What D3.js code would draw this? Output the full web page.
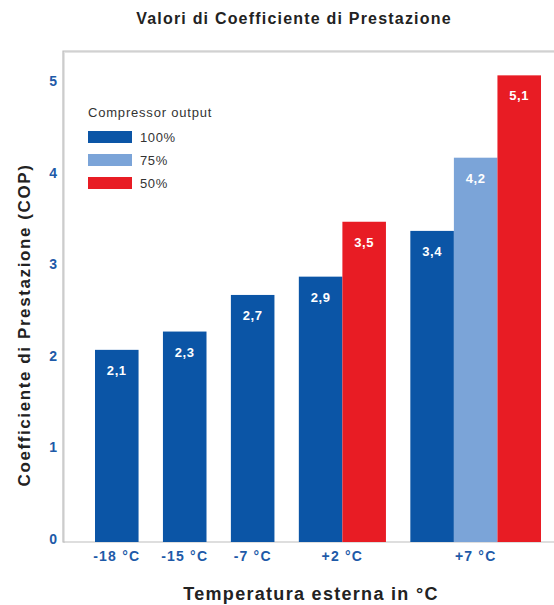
<!DOCTYPE html>
<html>
<head>
<meta charset="utf-8">
<script src="https://cdn.jsdelivr.net/npm/d3@7"></script>
<style>
  body { margin: 0; background: #fff; }
  text { font-family: "Liberation Sans", Arial, sans-serif; }
</style>
</head>
<body>
<div id="chart"></div>
<script>
// data
const categories = ['-18 °C', '-15 °C', '-7 °C', '+2 °C', '+7 °C'];
const seriesNames = ['100%', '75%', '50%'];
const seriesColors = ['#0b55a6', '#7ba4d8', '#e81c24'];
const values100 = [2.1, 2.3, 2.7, 2.9, 3.4];
const values75 = [null, null, null, null, 4.2];
const values50 = [null, null, null, 3.5, 5.1];
const yTicks = [0, 1, 2, 3, 4, 5];

const W = 554, H = 605;
const frame = {left: 63, top: 51, bottom: 542};

const svg = d3.select('#chart').append('svg')
  .attr('width', W)
  .attr('height', H);

// bars of one category sit side by side, a gap between categories
const allSeries = [values100, values75, values50];
const bars = [];
let slot = 0;
const gap = 0.56;
categories.forEach((c, ci) => {
  allSeries.forEach((vals, si) => {
    if (vals[ci] != null) {
      bars.push({cat: c, series: si, value: vals[ci], slot: slot, group: ci});
      slot++;
    }
  });
});
const totalUnits = slot + gap * (categories.length - 1);

const x = d3.scaleLinear()
  .domain([0, totalUnits])
  .range([95, 541]);
const xPos = (s, g) => x(s + g * gap);

const y = d3.scaleLinear()
  .domain([0, 5])
  .range([frame.bottom, 84.5]);

// frame
svg.append('path')
  .attr('d', `M${W},${frame.top + 1}H${frame.left + 1}V${frame.bottom + 1}`)
  .attr('fill', 'none')
  .attr('stroke', '#e4e4e4')
  .attr('stroke-width', 2);
svg.append('path')
  .attr('d', `M${W},${frame.top}H${frame.left}V${frame.bottom}H${W}`)
  .attr('fill', 'none')
  .attr('stroke', '#bdbdbd')
  .attr('stroke-width', 1.2);

// bars
svg.append('g').selectAll('rect')
  .data(bars)
  .join('rect')
  .attr('x', d => xPos(d.slot, d.group))
  .attr('width', d => xPos(d.slot + 1, d.group) - xPos(d.slot, d.group))
  .attr('y', d => y(d.value))
  .attr('height', d => y(0) - y(d.value))
  .attr('fill', d => seriesColors[d.series]);

// value labels inside bars
svg.append('g').selectAll('text')
  .data(bars)
  .join('text')
  .attr('x', d => xPos(d.slot + 0.5, d.group))
  .attr('y', d => y(d.value) + 25)
  .attr('text-anchor', 'middle')
  .attr('fill', '#fff')
  .style('font-size', '13px')
  .style('font-weight', 'bold')
  .style('letter-spacing', '0.6px')
  .text(d => String(d.value).replace('.', ','));

// y axis labels
const yAxis = d3.axisLeft(y)
  .tickValues(yTicks)
  .tickFormat(d3.format('d'))
  .tickSize(0)
  .tickPadding(6);
const yg = svg.append('g')
  .attr('transform', `translate(${frame.left},0)`)
  .call(yAxis);
yg.select('.domain').remove();
yg.selectAll('text')
  .attr('dy', '0.1em')
  .attr('fill', '#1e5aa8')
  .style('font-size', '14px')
  .style('font-weight', 'bold')
  .style('font-family', '"Liberation Sans", Arial, sans-serif');

// x category labels
const groups = categories.map((c, ci) => {
  const bs = bars.filter(b => b.group === ci);
  return {name: c, mid: (xPos(bs[0].slot, ci) + xPos(bs[bs.length - 1].slot + 1, ci)) / 2};
});
svg.append('g').selectAll('text')
  .data(groups)
  .join('text')
  .attr('x', d => d.mid)
  .attr('y', 561)
  .attr('text-anchor', 'middle')
  .attr('fill', '#1e5aa8')
  .style('font-size', '14px')
  .style('font-weight', 'bold')
  .style('letter-spacing', '1.2px')
  .text(d => d.name);

// titles
svg.append('text')
  .attr('x', 294)
  .attr('y', 24)
  .attr('text-anchor', 'middle')
  .attr('fill', '#222')
  .style('font-size', '16px')
  .style('font-weight', 'bold')
  .style('letter-spacing', '1.2px')
  .text('Valori di Coefficiente di Prestazione');

svg.append('text')
  .attr('x', 311)
  .attr('y', 600)
  .attr('text-anchor', 'middle')
  .attr('fill', '#222')
  .style('font-size', '18px')
  .style('font-weight', 'bold')
  .style('letter-spacing', '1.3px')
  .text('Temperatura esterna in °C');

svg.append('text')
  .attr('transform', 'translate(30,325) rotate(-90)')
  .attr('text-anchor', 'middle')
  .attr('fill', '#222')
  .style('font-size', '17px')
  .style('font-weight', 'bold')
  .style('letter-spacing', '1.6px')
  .text('Coefficiente di Prestazione (COP)');

// legend
const legend = svg.append('g').attr('transform', 'translate(88,0)');
legend.append('text')
  .attr('x', 0)
  .attr('y', 117)
  .attr('fill', '#333')
  .style('font-size', '13px')
  .style('letter-spacing', '0.8px')
  .text('Compressor output');
const li = legend.selectAll('g.item')
  .data(seriesNames)
  .join('g')
  .attr('class', 'item')
  .attr('transform', (d, i) => `translate(0,${131 + i * 23})`);
li.append('rect')
  .attr('width', 44)
  .attr('height', 12)
  .attr('fill', (d, i) => seriesColors[i]);
li.append('text')
  .attr('x', 52)
  .attr('y', 11)
  .attr('fill', '#333')
  .style('font-size', '13px')
  .style('letter-spacing', '0.6px')
  .text(d => d);
</script>
</body>
</html>
